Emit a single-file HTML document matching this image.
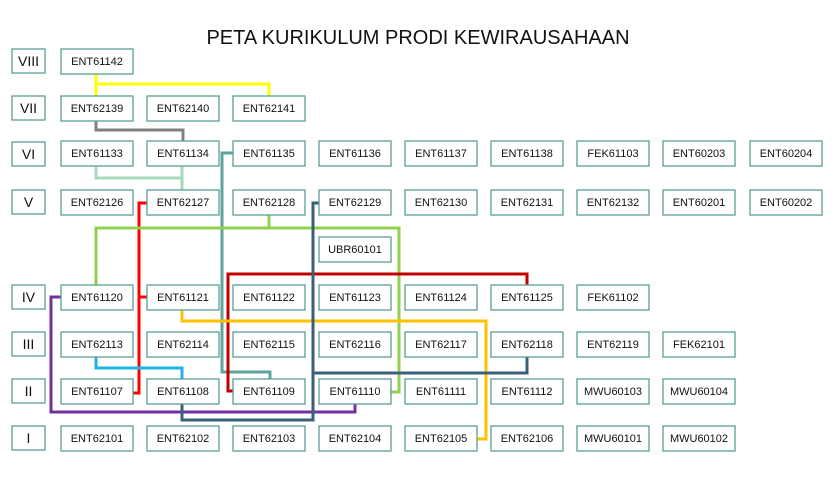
<!DOCTYPE html>
<html><head><meta charset="utf-8"><style>
html,body{margin:0;padding:0;background:#fff;}
svg{display:block;font-family:"Liberation Sans",Arial,sans-serif;}
.b{fill:#fff;stroke:#5b9f98;stroke-width:1.3;}
.t{font-size:11px;fill:#111;text-anchor:middle;}
.r{font-size:14px;fill:#111;text-anchor:middle;}
.l{fill:none;stroke-width:3;}
</style></head><body>
<svg width="834" height="486" viewBox="0 0 834 486">
<text x="418" y="44" font-size="20" text-anchor="middle" fill="#111">PETA KURIKULUM PRODI KEWIRAUSAHAAN</text>
<!-- connectors -->
<polyline class="l" stroke="#ffff00" points="96,73 96,84 269,84 269,96"/>
<line class="l" stroke="#ffff00" x1="96" y1="84" x2="96" y2="96"/>
<polyline class="l" stroke="#808080" points="96,120 96,130 183,130 183,141"/>
<polyline class="l" stroke="#a9d9b9" points="96,166 96,178 182,178"/>
<line class="l" stroke="#a9d9b9" x1="182" y1="166" x2="182" y2="190"/>
<polyline class="l" stroke="#5fa39d" points="233,153 222,153 222,372 270,372 270,379"/>
<polyline class="l" stroke="#ff0000" points="147,203 139,203 139,393 132,393"/>
<line class="l" stroke="#ff0000" x1="139" y1="297" x2="147" y2="297"/>
<polyline class="l" stroke="#92d050" points="269,215 269,228"/>
<polyline class="l" stroke="#92d050" points="96,285 96,228 399,228 399,392 391,392"/>
<polyline class="l" stroke="#c00000" points="527,285 527,274 228,274 228,391 233,391"/>
<polyline class="l" stroke="#ffc000" points="182,310 182,321 486,321 486,439 477,439"/>
<polyline class="l" stroke="#1fb2ea" points="96,357 96,368 182,368 182,379"/>
<polyline class="l" stroke="#7030a0" points="61,297 51,297 51,412 355,412 355,404"/>
<polyline class="l" stroke="#3a6079" points="319,203 313,203 313,420 182,420 182,404"/>
<polyline class="l" stroke="#3a6079" points="313,373 527,373 527,357"/>
<!-- roman -->
<g>
<rect class="b" x="12" y="49" width="33" height="24"/><text class="r" x="28.5" y="66">VIII</text>
<rect class="b" x="12" y="96" width="33" height="24"/><text class="r" x="28.5" y="113">VII</text>
<rect class="b" x="12" y="142" width="33" height="24"/><text class="r" x="28.5" y="159">VI</text>
<rect class="b" x="12" y="190" width="33" height="24"/><text class="r" x="28.5" y="207">V</text>
<rect class="b" x="12" y="285" width="33" height="24"/><text class="r" x="28.5" y="302">IV</text>
<rect class="b" x="12" y="332" width="33" height="24"/><text class="r" x="28.5" y="349">III</text>
<rect class="b" x="12" y="379" width="33" height="24"/><text class="r" x="28.5" y="396">II</text>
<rect class="b" x="12" y="426" width="33" height="24"/><text class="r" x="28.5" y="443">I</text>
</g>
<g id="nodes"></g>
</svg>
<script>
var cols=[61,147,233,319,405,491,577,663,750];
var rows=[[49,["ENT61142"]],[96,["ENT62139","ENT62140","ENT62141"]],
[141,["ENT61133","ENT61134","ENT61135","ENT61136","ENT61137","ENT61138","FEK61103","ENT60203","ENT60204"]],
[190,["ENT62126","ENT62127","ENT62128","ENT62129","ENT62130","ENT62131","ENT62132","ENT60201","ENT60202"]],
[237,[null,null,null,"UBR60101"]],
[285,["ENT61120","ENT61121","ENT61122","ENT61123","ENT61124","ENT61125","FEK61102"]],
[332,["ENT62113","ENT62114","ENT62115","ENT62116","ENT62117","ENT62118","ENT62119","FEK62101"]],
[379,["ENT61107","ENT61108","ENT61109","ENT61110","ENT61111","ENT61112","MWU60103","MWU60104"]],
[426,["ENT62101","ENT62102","ENT62103","ENT62104","ENT62105","ENT62106","MWU60101","MWU60102"]]];
var g=document.getElementById("nodes"),h="";
rows.forEach(function(r){r[1].forEach(function(n,i){if(!n)return;var x=cols[i];
h+='<rect class="b" x="'+x+'" y="'+r[0]+'" width="72" height="25"/><text class="t" x="'+(x+36)+'" y="'+(r[0]+16)+'">'+n+'</text>';});});
g.innerHTML=h;
</script>
</body></html>
